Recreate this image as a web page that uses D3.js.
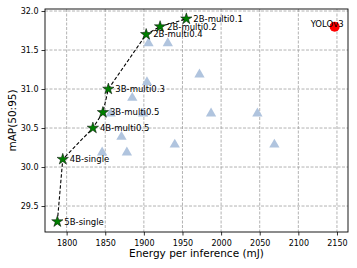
<!DOCTYPE html>
<html>
<head>
<meta charset="utf-8">
<script src="https://cdn.jsdelivr.net/npm/d3@7"></script>
<style>
  body { margin: 0; background: #fff; }
  svg { display: block; font-family: "DejaVu Sans", sans-serif; }
</style>
</head>
<body>
<svg id="chart" width="357" height="268"></svg>
<script>
// pareto front (stars), in drawing order
const starNames = ["5B-single", "4B-single", "4B-multi0.5", "3B-multi0.5", "3B-multi0.3", "2B-multi0.4", "2B-multi0.2", "2B-multi0.1"];
const starEnergy = [1788, 1795, 1834, 1847, 1854, 1903, 1921, 1955];
const starMap = [29.3, 30.1, 30.5, 30.7, 31.0, 31.7, 31.8, 31.9];

// other configs (triangles)
const triEnergy = [1906, 1931, 1972, 1904, 1885, 1857, 1899, 1987, 2047, 1871, 1846, 1878, 1940, 2069];
const triMap = [31.6, 31.6, 31.2, 31.1, 30.9, 30.7, 30.7, 30.7, 30.7, 30.4, 30.2, 30.2, 30.3, 30.3];

const baseName = "YOLOv3";
const baseEnergy = 2147;
const baseMap = 31.8;

const xTicks = [1800, 1850, 1900, 1950, 2000, 2050, 2100, 2150];
const yTicks = [29.5, 30.0, 30.5, 31.0, 31.5, 32.0];

const mLeft = 45, mRight = 348, mTop = 9, mBottom = 232;

const svg = d3.select("#chart");
const x = d3.scaleLinear().domain([1772, 2164.3]).range([mLeft, mRight]);
const y = d3.scaleLinear().domain([29.167, 32.026]).range([mBottom, mTop]);

// grid
const grid = svg.append("g");
grid.selectAll(".gx").data(xTicks).enter().append("line")
    .attr("x1", d => x(d)).attr("x2", d => x(d))
    .attr("y1", mTop).attr("y2", mBottom)
    .attr("stroke", "#a0a0a0").attr("stroke-width", 0.8).attr("stroke-dasharray", "3,1.5");
grid.selectAll(".gy").data(yTicks).enter().append("line")
    .attr("x1", mLeft).attr("x2", mRight)
    .attr("y1", d => y(d)).attr("y2", d => y(d))
    .attr("stroke", "#a0a0a0").attr("stroke-width", 0.8).attr("stroke-dasharray", "3,1.5");

// axes
const xAxis = svg.append("g").attr("transform", `translate(0,${mBottom})`)
    .call(d3.axisBottom(x).tickValues(xTicks).tickFormat(d3.format("d")).tickSize(3.5).tickSizeOuter(0));
const yAxis = svg.append("g").attr("transform", `translate(${mLeft},0)`)
    .call(d3.axisLeft(y).tickValues(yTicks).tickFormat(d3.format(".1f")).tickSize(3.5).tickSizeOuter(0));
[xAxis, yAxis].forEach(a => {
    a.select(".domain").remove();
    a.selectAll("text").attr("font-size", 8).attr("fill", "#000").attr("font-family", "DejaVu Sans");
    a.selectAll("line").attr("stroke", "#000").attr("stroke-width", 0.8);
});
xAxis.selectAll("text").attr("dy", "0.9em");

// frame
svg.append("rect").attr("x", mLeft).attr("y", mTop)
    .attr("width", mRight - mLeft).attr("height", mBottom - mTop)
    .attr("fill", "none").attr("stroke", "#000").attr("stroke-width", 0.9);

// triangles
const tri = d3.symbol().type(d3.symbolTriangle).size(46);
svg.append("g").selectAll("path").data(triEnergy).enter().append("path")
    .attr("d", tri)
    .attr("transform", (d, i) => `translate(${x(d)},${y(triMap[i]) + 1})`)
    .attr("fill", "#b0c4de");

// dashed pareto line
const stars = starEnergy.map((e, i) => ({e: e, m: starMap[i], name: starNames[i]}));
const line = d3.line().x(d => x(d.e)).y(d => y(d.m));
svg.append("path").datum(stars).attr("d", line)
    .attr("fill", "none").attr("stroke", "#000").attr("stroke-width", 1.1).attr("stroke-dasharray", "3.5,2");

// stars
const star = d3.symbol().type(d3.symbolStar).size(40);
svg.append("g").selectAll("path").data(stars).enter().append("path")
    .attr("d", star)
    .attr("transform", d => `translate(${x(d.e)},${y(d.m)})`)
    .attr("fill", "#008000").attr("stroke", "#000").attr("stroke-width", 0.5);

svg.append("g").selectAll("text").data(stars).enter().append("text")
    .attr("x", d => x(d.e) + 7).attr("y", d => y(d.m))
    .attr("dy", "0.35em").attr("font-size", 8.5).text(d => d.name);

// baseline
svg.append("circle").attr("cx", x(baseEnergy)).attr("cy", y(baseMap)).attr("r", 5)
    .attr("fill", "#ff0000");
svg.append("text").attr("x", x(baseEnergy) - 24).attr("y", y(baseMap) - 3)
    .attr("dy", "0.35em").attr("font-size", 8.5).text(baseName);

// axis labels
svg.append("text").attr("x", (mLeft + mRight) / 2).attr("y", 257)
    .attr("text-anchor", "middle").attr("font-size", 10.5).text("Energy per inference (mJ)");
svg.append("text").attr("transform", `translate(12,${(mTop + mBottom) / 2}) rotate(-90)`)
    .attr("text-anchor", "middle").attr("dy", "0.35em").attr("font-size", 10.5).text("mAP(50:95)");
</script>
</body>
</html>
